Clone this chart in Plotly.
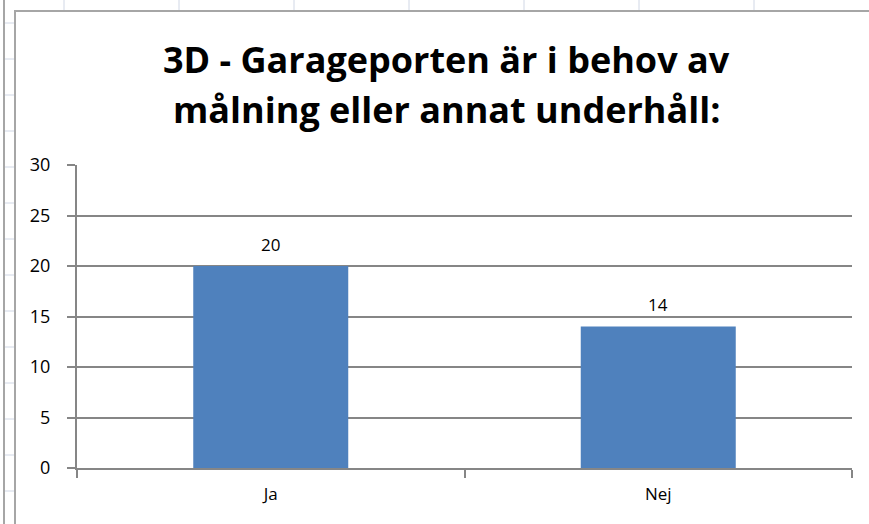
import plotly.graph_objects as go

categories = ['Ja', 'Nej']
values = [20, 14]
y_ticks = [0, 5, 10, 15, 20, 25, 30]
title_lines = ['3D - Garageporten är i behov av', 'målning eller annat underhåll:']

W, H = 869, 524
L, R, T, B = 77, 852, 165, 468
FONT = 'Open Sans, Lato, sans-serif'


def px2x(px):
    return (px - L) / (R - L)


def py2y(py):
    return (B - py) / (B - T)


fig = go.Figure()
fig.add_trace(go.Bar(
    x=categories, y=values,
    marker=dict(color='#4f81bd', line=dict(width=0)),
    width=0.4, hoverinfo='x+y',
))

shapes = []
# spreadsheet grid around the chart object
for py in range(23, H, 36):
    shapes.append(dict(type='line', xref='paper', yref='paper',
                       x0=px2x(4), x1=px2x(15), y0=py2y(py), y1=py2y(py),
                       line=dict(color='#d0d7e5', width=1)))
for px in range(64, W, 115):
    shapes.append(dict(type='line', xref='paper', yref='paper',
                       x0=px2x(px), x1=px2x(px), y0=py2y(0), y1=py2y(11),
                       line=dict(color='#d0d7e5', width=1)))
shapes.append(dict(type='line', xref='paper', yref='paper',
                   x0=px2x(4), x1=px2x(4), y0=py2y(0), y1=py2y(H),
                   line=dict(color='#a6a6a6', width=2)))
# chart border
shapes.append(dict(type='rect', xref='paper', yref='paper',
                   x0=px2x(15), x1=px2x(W + 10), y0=py2y(11), y1=py2y(H + 10),
                   line=dict(color='#a6a6a6', width=2), fillcolor='rgba(0,0,0,0)'))

annotations = []
for i, line in enumerate(title_lines):
    annotations.append(dict(
        text='<b>%s</b>' % line, xref='paper', yref='paper',
        x=px2x(446), y=py2y(59 + 50 * i), xanchor='center', yanchor='middle',
        showarrow=False,
        font=dict(family=FONT, size=36, color='#000000'),
    ))
# data labels above the bars
for c, v in zip(categories, values):
    annotations.append(dict(
        text=str(v), x=c, y=v, xref='x', yref='y',
        yanchor='middle', yshift=22, showarrow=False,
        font=dict(family=FONT, size=17, color='#000000'),
    ))

fig.update_layout(
    width=W, height=H,
    margin=dict(l=L, r=W - R, t=T, b=H - B, pad=0),
    paper_bgcolor='white', plot_bgcolor='white',
    showlegend=False, bargap=0.6,
    shapes=shapes, annotations=annotations,
    font=dict(family=FONT, size=17, color='#000000'),
    xaxis=dict(
        showline=True, linecolor='#868686', linewidth=2,
        ticks='outside', ticklen=8, tickcolor='#868686', tickwidth=2,
        tickson='boundaries', showgrid=False,
        ticklabelstandoff=10,
    ),
    yaxis=dict(
        range=[0, 30], tickvals=y_ticks,
        showline=True, linecolor='#868686', linewidth=2,
        ticks='outside', ticklen=8, tickcolor='#868686', tickwidth=2,
        showgrid=True, gridcolor='#868686', gridwidth=2,
        zeroline=False, ticklabelstandoff=13,
        tickfont=dict(size=18),
    ),
)

fig.write_html('out.html', config={'displayModeBar': False},
               post_script="document.body.style.margin='0';")
